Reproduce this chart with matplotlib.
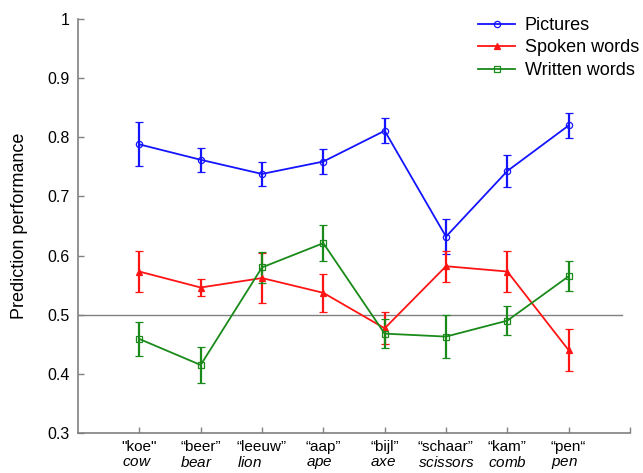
import matplotlib
matplotlib.use('Agg')
import matplotlib.pyplot as plt
from matplotlib.lines import Line2D
import numpy as np

plt.rcParams['font.family'] = ['Liberation Sans', 'DejaVu Sans']
plt.rcParams['mathtext.fontset'] = 'custom'
plt.rcParams['mathtext.rm'] = 'Liberation Sans'
plt.rcParams['mathtext.it'] = 'Liberation Sans:italic'

# data
dutch = ['"koe"', '\u201cbeer\u201d', '\u201cleeuw\u201d', '\u201caap\u201d',
         '\u201cbijl\u201d', '\u201cschaar\u201d', '\u201ckam\u201d', '\u201cpen\u201c']
english = ['cow', 'bear', 'lion', 'ape', 'axe', 'scissors', 'comb', 'pen']

pictures = [0.788, 0.762, 0.738, 0.759, 0.811, 0.632, 0.743, 0.820]
pictures_err = [0.037, 0.020, 0.020, 0.021, 0.021, 0.030, 0.027, 0.021]

spoken = [0.573, 0.546, 0.562, 0.537, 0.477, 0.582, 0.573, 0.440]
spoken_err = [0.034, 0.015, 0.042, 0.032, 0.027, 0.026, 0.035, 0.036]

written = [0.459, 0.415, 0.580, 0.621, 0.468, 0.463, 0.490, 0.565]
written_err = [0.028, 0.031, 0.026, 0.030, 0.025, 0.036, 0.024, 0.025]

yticks = [0.3, 0.4, 0.5, 0.6, 0.7, 0.8, 0.9, 1.0]
yticklabels = ['0.3', '0.4', '0.5', '0.6', '0.7', '0.8', '0.9', '1']

x = np.arange(1, len(dutch) + 1)

fig = plt.figure(figsize=(6.43, 4.73), dpi=100)
ax = fig.add_axes([78/643, 1-433/473, (630-78)/643, (433-19)/473])

ax.plot([0, 8.875], [0.5, 0.5], color='#808080', lw=1.0, zorder=1)

series = [
    (pictures, pictures_err, '#1414ff', 'o', 'Pictures', 'none'),
    (spoken, spoken_err, '#ff1414', '^', 'Spoken words', None),
    (written, written_err, '#1a8a1a', 's', 'Written words', 'none'),
]
handles = []
for vals, err, col, mk, name, mfc in series:
    ax.errorbar(x, vals, yerr=err, color=col, lw=1.3, elinewidth=1.6,
                capsize=3, capthick=1.6, marker=mk, markersize=4.5,
                markerfacecolor=mfc if mfc else col, markeredgecolor=col,
                markeredgewidth=0.9, zorder=3)
    handles.append(Line2D([], [], color=col, lw=1.3, marker=mk, markersize=4.5,
                          markerfacecolor=mfc if mfc else col,
                          markeredgecolor=col, markeredgewidth=0.9, label=name))

ax.set_xlim(0, 9)
ax.set_ylim(0.3, 1.0)
ax.set_yticks(yticks)
ax.set_yticklabels(yticklabels, fontsize=11.5)
ax.set_xticks(list(x) + [9])
labels = [d + '\n$\\it{' + e + '}$' for d, e in zip(dutch, english)] + ['']
ax.set_xticklabels(labels, multialignment='left', linespacing=1.12, fontsize=11)

for s in ['top', 'right']:
    ax.spines[s].set_visible(False)
for s in ['left', 'bottom']:
    ax.spines[s].set_color('#808080')
    ax.spines[s].set_linewidth(1.2)
ax.tick_params(direction='in', length=4, width=1, color='#808080')
ax.tick_params(axis='x', pad=5)
ax.tick_params(axis='y', pad=6)

ax.set_ylabel('Prediction performance', fontsize=13, labelpad=14)

ax.legend(handles=handles, loc='upper left', bbox_to_anchor=(478/643, 1-17/473),
          bbox_transform=fig.transFigure, frameon=False, fontsize=13,
          borderpad=0, borderaxespad=0, handlelength=2.05,
          handletextpad=0.55, labelspacing=0.3)

fig.savefig('out.png', dpi=100)
